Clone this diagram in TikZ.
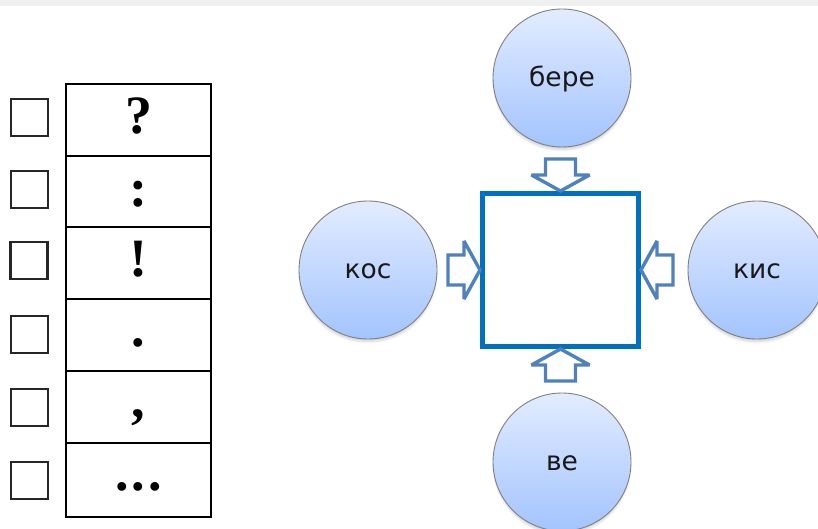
\documentclass[tikz,border=0pt]{standalone}
\usepackage{fontspec}
\setmainfont{Liberation Serif}
\newfontfamily\circlefont{DejaVu Sans}
\usetikzlibrary{calc}
\definecolor{arrowblue}{HTML}{4F81BD}
\definecolor{squareblue}{HTML}{0070C0}
\definecolor{bandgray}{HTML}{F0F0F0}
\definecolor{ctop}{HTML}{E2ECFF}
\definecolor{cbot}{HTML}{A3C4FE}
\newcommand{\lowered}[1]{\raisebox{-8.5pt}[0pt][0pt]{#1}}
\tikzset{
 x=1pt,y=-1pt,
 bubble/.style={circle,minimum size=138pt,inner sep=0pt,draw=black!50,line width=0.9pt,
   top color=ctop,bottom color=cbot,font=\circlefont\fontsize{26.5}{27}\selectfont,text=black!90},
 cell/.style={draw=black,line width=2pt,minimum width=145pt,inner sep=0pt},
 mark text/.style={font=\bfseries\fontsize{54}{54}\selectfont,inner sep=0pt},
 tick box/.style={draw=black!85,line width=2.2pt,minimum width=37pt,minimum height=37pt,inner sep=0pt},
 target/.style={draw=squareblue,line width=5pt,minimum width=156pt,minimum height=153pt,inner sep=0pt,fill=white},
 blockarrow/.style={draw=arrowblue,line width=3.4pt,fill=white,miter limit=4,line join=miter},
 glow/.style={fill=black,opacity=0.04,draw=none}
}
\newcommand{\softshadow}[2]{%
 \foreach \r in {69.5,68.5,...,65}{\fill[glow] ($(#1,#2)+(0,4)$) circle[radius=\r];}}
\newcommand{\blockarrow}[2]{%
 \draw[blockarrow,shift={#1},rotate=#2] (-15,-32) -- (15,-32) -- (15,-16) -- (29,-16) -- (0,0) -- (-29,-16) -- (-15,-16) -- cycle;}
\begin{document}
\begin{tikzpicture}
\useasboundingbox (0,0) rectangle (818,529);
\clip (0,0) rectangle (818,529);
\fill[white] (0,0) rectangle (818,529);
\fill[bandgray] (0,0) rectangle (818,6);
% table
\node[cell,minimum height=72pt] (c1) at (138.5,120) {};
\node[cell,minimum height=71pt] (c2) at (138.5,191.5) {};
\node[cell,minimum height=72pt] (c3) at (138.5,263) {};
\node[cell,minimum height=72pt] (c4) at (138.5,335) {};
\node[cell,minimum height=72pt] (c5) at (138.5,407) {};
\node[cell,minimum height=74pt] (c6) at (138.5,480) {};
\node[mark text] (t1) at (138.5,116) {?};
\node[mark text] (t2) at (138.5,194) {:};
\node[mark text] (t3) at (138.5,259) {!};
\node[mark text] (t4) at (138.5,343) {.};
\node[mark text] (t5) at (138.5,418) {,};
\node[mark text] (t6) at (138.5,487) {.\kern3pt.\kern3pt.};
% tick boxes
\node[tick box] (b1) at (29.5,117.5) {};
\node[tick box] (b2) at (29.5,189.5) {};
\node[tick box] (b3) at (29,260.5) {};
\node[tick box] (b4) at (29.5,334.5) {};
\node[tick box] (b5) at (29.5,407.5) {};
\node[tick box] (b6) at (29.5,480.5) {};
% circles
\softshadow{562}{78}\softshadow{368}{270}\softshadow{757}{270}\softshadow{562}{462}
\node[bubble] (bere) at (562,78) {\lowered{бере}};
\node[bubble] (kos) at (368,270) {\lowered{кос}};
\node[bubble] (kis) at (757,270) {\lowered{кис}};
\node[bubble] (ve) at (562,462) {\lowered{ве}};
% square
\node[target] (sq) at (560.5,270) {};
% block arrows
\blockarrow{(sq.north)+(1.5,-3)}{0}
\blockarrow{(sq.south)+(1.5,2)}{180}
\blockarrow{(sq.west)+(-2,-1)}{90}
\blockarrow{(sq.east)+(3,-1)}{-90}
\end{tikzpicture}
\end{document}
